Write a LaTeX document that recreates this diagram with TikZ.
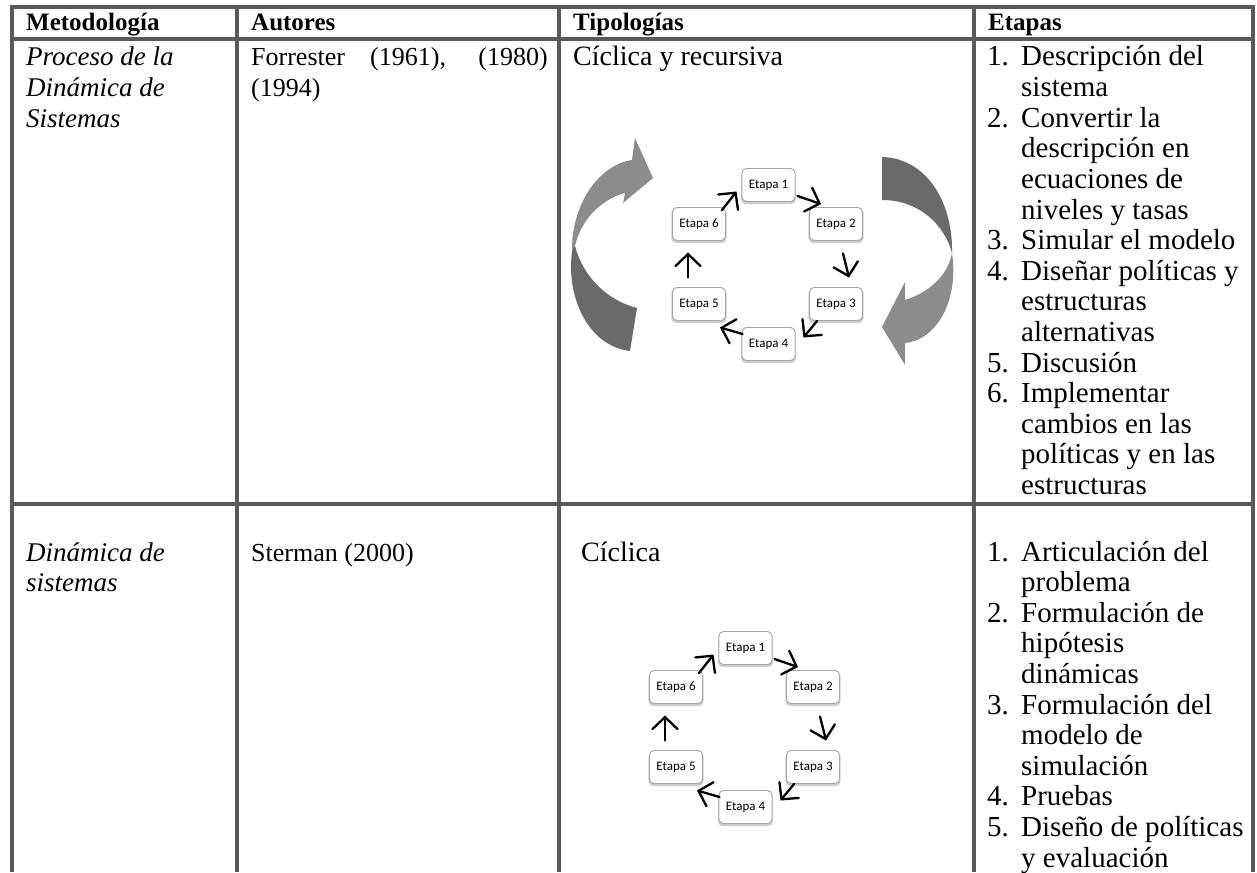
\documentclass[tikz,border=0pt]{standalone}
\usepackage{fontspec}
\setmainfont{Liberation Serif}
\newfontfamily\boxfont{Carlito}
\usetikzlibrary{arrows.meta,shadows}

\definecolor{rulegray}{HTML}{595959}
\definecolor{ribbondark}{HTML}{6A6A6A}
\definecolor{ribbonlight}{HTML}{8C8C8C}

% one ring of six stages; #1 = name prefix, #2/#3 = offset
\newcommand{\etapacycle}[3]{%
  \node[stage] (#1e1) at ({768.5+#2},{185+#3}) {Etapa 1};
  \node[stage] (#1e2) at ({836+#2},{224+#3}) {Etapa 2};
  \node[stage] (#1e3) at ({836+#2},{304+#3}) {Etapa 3};
  \node[stage] (#1e4) at ({768.5+#2},{344+#3}) {Etapa 4};
  \node[stage] (#1e5) at ({699+#2},{304+#3}) {Etapa 5};
  \node[stage] (#1e6) at ({699+#2},{224+#3}) {Etapa 6};
  \draw[flow] ([shift={(2,11)}]#1e1.east) -- ([shift={(12,-3)}]#1e2.north west);
  \draw[flow] ([shift={(7,12.5)}]#1e2.south) -- ([shift={(13,-9.5)}]#1e3.north);
  \draw[flow] ([shift={(8,0)}]#1e3.south west) -- ([shift={(8,-6.5)}]#1e4.east);
  \draw[flow] ([shift={(1,-10)}]#1e4.west) -- ([shift={(-6,6.5)}]#1e5.south east);
  \draw[flow] ([shift={(-11,-9.5)}]#1e5.north) -- ([shift={(-11,11.5)}]#1e6.south);
  \draw[flow] ([shift={(-4,3)}]#1e6.north east) -- ([shift={(-5,6.5)}]#1e1.west);
}

\begin{document}
\begin{tikzpicture}[x=1pt,y=-1pt,
  tablerule/.style={draw=rulegray, line width=3.6pt},
  txt/.style={anchor=base west, inner sep=0pt, font=\fontsize{27}{30.6}\selectfont},
  hdr/.style={txt, font=\fontsize{25}{30}\selectfont\bfseries},
  meth/.style={txt, font=\fontsize{27}{30.6}\selectfont\itshape},
  auth/.style={txt, font=\fontsize{26}{30.6}\selectfont},
  typ/.style={txt, font=\fontsize{28}{30.6}\selectfont},
  item/.style={txt, font=\fontsize{29}{30.6}\selectfont},
  stage/.style={draw=black!35, fill=white, line width=0.9pt, rounded corners=4.5pt,
    minimum width=53pt, minimum height=33pt, inner sep=0pt,
    font=\boxfont\fontsize{13}{15}\selectfont,
    drop shadow={shadow xshift=0pt, shadow yshift=-1.8pt, shadow scale=1.04,
      opacity=0.4, fill=black!50}},
  flow/.style={line width=2.3pt, line cap=round,
    -{Straight Barb[length=12pt,width=25pt,line cap=round]}},
]
\useasboundingbox (0,0) rectangle (1257,872);

% table rules
\foreach \yy in {7,39,504}
  \draw[tablerule] (10.2,\yy) -- (1254.8,\yy);
\foreach \xx in {12,237,559,974,1253}
  \draw[tablerule] (\xx,5.2) -- (\xx,872);

% header
\node[hdr] (h1) at (26,31) {Metodología};
\node[hdr] (h2) at (251,31) {Autores};
\node[hdr] (h3) at (573,31) {Tipologías};
\node[hdr] (h4) at (988,31) {Etapas};

% first row
\foreach \t [count=\i from 0] in {Proceso de la, Dinámica de, Sistemas}
  \node[meth] (ma-\i) at (26,{66+30.6*\i}) {\t};
\node[auth] (au-1) at (251,66) {Forrester};
\node[auth] (au-2) at (370,66) {(1961),};
\node[auth, anchor=base east] (au-3) at (548,66) {(1980)};
\node[auth] (au-4) at (251,96.6) {(1994)};
\node[typ] (ti-1) at (573,66) {Cíclica y recursiva};
\foreach \t [count=\i from 0] in {Descripción del, sistema, Convertir la,
    descripción en, ecuaciones de, niveles y tasas, Simular el modelo,
    Diseñar políticas y, estructuras, alternativas, Discusión, Implementar,
    cambios en las, políticas y en las, estructuras}
  \node[item] (ea-\i) at (1021,{66+30.6*\i}) {\t};
\foreach \n/\i in {1/0,2/2,3/6,4/7,5/10,6/11}
  \node[item] (na-\n) at (987,{66+30.6*\i}) {\n.};

% second row
\foreach \t [count=\i from 0] in {Dinámica de, sistemas}
  \node[meth] (mb-\i) at (26,{561+30.6*\i}) {\t};
\node[auth] (au-5) at (251,561) {Sterman (2000)};
\node[typ] (ti-2) at (581,561) {Cíclica};
\foreach \t [count=\i from 0] in {Articulación del, problema, Formulación de,
    hipótesis, dinámicas, Formulación del, modelo de, simulación, Pruebas,
    Diseño de políticas, y evaluación}
  \node[item] (eb-\i) at (1021,{561+30.6*\i}) {\t};
\foreach \n/\i in {1/0,2/2,3/5,4/8,5/9}
  \node[item] (nb-\n) at (987,{561+30.6*\i}) {\n.};

% large twisted ribbon arrows around the first ring
\fill[ribbondark] (573,246) .. controls (564,292) and (586,346) .. (630,351)
  -- (637,308) .. controls (606,300) and (583,276) .. (575,246) -- cycle;
\fill[ribbonlight] (572,249) .. controls (572,205) and (598,165) .. (632,160)
  -- (635,138) -- (653,178) -- (623,203) -- (625,193)
  .. controls (600,200) and (581,220) .. (575,246) -- cycle;
\fill[ribbondark] (882,157) .. controls (925,158) and (953,200) .. (952,253)
  .. controls (945,226) and (920,200) .. (882,200) -- cycle;
\fill[ribbonlight] (952,253) .. controls (959,300) and (937,340) .. (905,343)
  -- (905,365) -- (882,327) -- (905,282) -- (905,300)
  .. controls (930,292) and (948,275) .. (952,253) -- cycle;

% stage rings
\etapacycle{a}{0}{0}
\etapacycle{b}{-23}{463}
\end{tikzpicture}
\end{document}
